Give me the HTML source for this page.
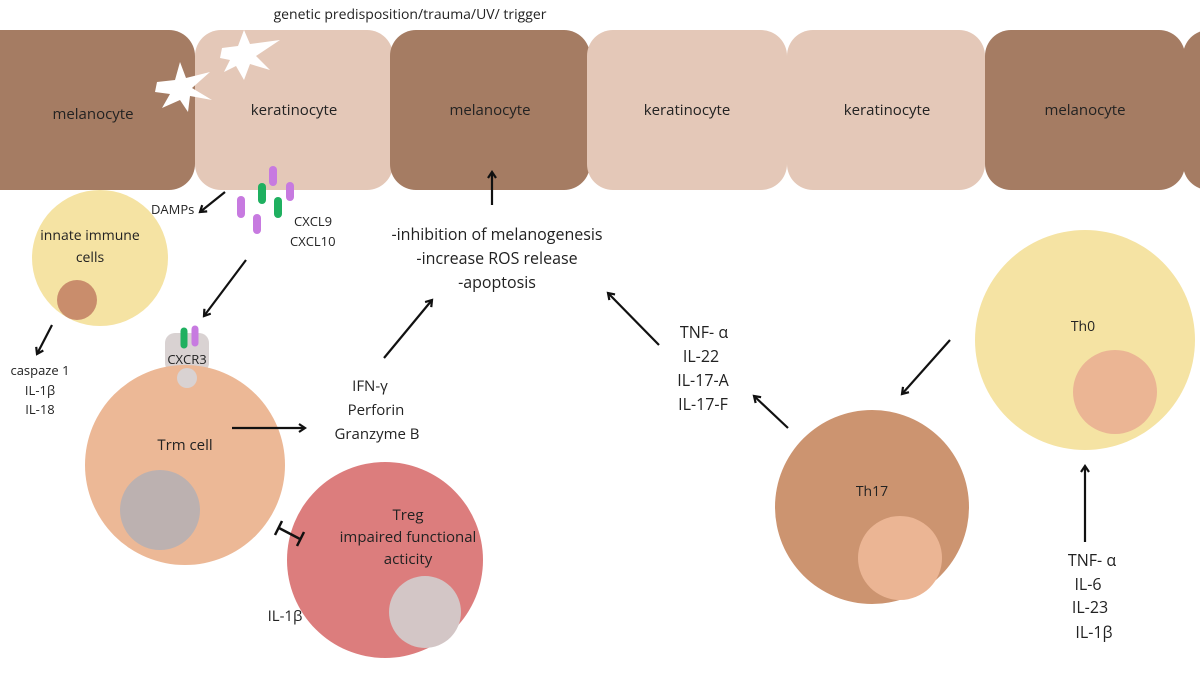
<!DOCTYPE html>
<html><head><meta charset="utf-8"><style>
html,body{margin:0;padding:0;background:#fff}
svg text{font-family:"Open Sans","Liberation Sans","DejaVu Sans",sans-serif;fill:#222}
</style></head><body>
<svg width="1200" height="675" viewBox="0 0 1200 675" xmlns="http://www.w3.org/2000/svg">
<defs><marker id="a" markerWidth="10" markerHeight="10" refX="7" refY="5" orient="auto" markerUnits="userSpaceOnUse"><path d="M1,1 L7,5 L1,9" fill="none" stroke="#111" stroke-width="2.2"/></marker></defs>
<text x="410" y="19" font-size="14" text-anchor="middle">genetic predisposition/trauma/UV/ trigger</text>
<!-- cells row -->
<rect x="-30" y="30" width="225" height="160" rx="26" fill="#a57c63"/>
<rect x="195" y="30" width="198" height="160" rx="26" fill="#e4c8b8"/>
<rect x="390" y="30" width="200" height="160" rx="26" fill="#a57c63"/>
<rect x="587" y="30" width="200" height="160" rx="26" fill="#e4c8b8"/>
<rect x="787" y="30" width="198" height="160" rx="26" fill="#e4c8b8"/>
<rect x="985" y="30" width="200" height="160" rx="26" fill="#a57c63"/>
<rect x="1183" y="30" width="60" height="160" rx="26" fill="#a57c63"/>
<g font-size="15" text-anchor="middle">
<text x="93" y="119">melanocyte</text><text x="294" y="115">keratinocyte</text><text x="490" y="115">melanocyte</text><text x="687" y="115">keratinocyte</text><text x="887" y="115">keratinocyte</text><text x="1085" y="115">melanocyte</text>
</g>
<!-- bursts -->
<polygon points="157,82 175,80 180,62 186,78 210,72 192,88 212,100 190,96 188,112 180,100 162,108 170,94 155,92" fill="#fff"/>
<polygon points="222,48 238,46 244,30 250,44 280,40 256,56 270,70 250,64 244,80 236,66 224,72 230,60 220,58" fill="#fff"/>
<!-- chemokines -->
<g stroke-linecap="round" stroke-width="8">
<line x1="273" y1="170" x2="273" y2="182" stroke="#c77ae0"/><line x1="290" y1="186" x2="290" y2="197" stroke="#c77ae0"/>
<line x1="241" y1="200" x2="241" y2="214" stroke="#c77ae0"/><line x1="257" y1="218" x2="257" y2="230" stroke="#c77ae0"/>
<line x1="262" y1="187" x2="262" y2="200" stroke="#1fb060"/><line x1="278" y1="201" x2="278" y2="214" stroke="#1fb060"/>
</g>
<text x="151" y="214" font-size="13">DAMPs</text>
<text x="294" y="226" font-size="13">CXCL9</text><text x="290" y="246" font-size="13">CXCL10</text>
<!-- innate -->
<circle cx="100" cy="258" r="68" fill="#f5e3a3"/><circle cx="77" cy="300" r="20" fill="#c98d6c"/>
<text x="90" y="240" font-size="14" text-anchor="middle">innate immune</text><text x="90" y="262" font-size="14" text-anchor="middle">cells</text>
<line x1="225" y1="192" x2="200" y2="212" stroke="#111" stroke-width="2.2" marker-end="url(#a)"/>
<line x1="246" y1="260" x2="204" y2="316" stroke="#111" stroke-width="2.2" marker-end="url(#a)"/>
<line x1="52" y1="325" x2="37" y2="354" stroke="#111" stroke-width="2.2" marker-end="url(#a)"/>
<g font-size="13" text-anchor="middle"><text x="40" y="375">caspaze 1</text><text x="40" y="395">IL-1β</text><text x="40" y="414">IL-18</text></g>
<!-- Trm -->
<rect x="165" y="333" width="44" height="40" rx="10" fill="#d9d2d2"/>
<rect x="177" y="360" width="20" height="28" rx="10" fill="#d9d2d2"/>
<circle cx="185" cy="465" r="100" fill="#ecb896"/>
<rect x="177" y="368" width="20" height="20" rx="10" fill="#d9d2d2"/>
<line x1="184" y1="331" x2="184" y2="345" stroke="#1fb060" stroke-width="7" stroke-linecap="round"/>
<line x1="195" y1="329" x2="195" y2="343" stroke="#c77ae0" stroke-width="7" stroke-linecap="round"/>
<text x="187" y="364" font-size="13" text-anchor="middle">CXCR3</text>
<circle cx="160" cy="510" r="40" fill="#bcb1b0"/>
<text x="185" y="450" font-size="15" text-anchor="middle">Trm cell</text>
<line x1="232" y1="428" x2="305" y2="428" stroke="#111" stroke-width="2.2" marker-end="url(#a)"/>
<g font-size="15" text-anchor="middle"><text x="370" y="391">IFN-γ</text><text x="376" y="415">Perforin</text><text x="377" y="439">Granzyme B</text></g>
<line x1="384" y1="358" x2="432" y2="300" stroke="#111" stroke-width="2.2" marker-end="url(#a)"/>
<!-- Treg -->
<circle cx="385" cy="560" r="98" fill="#dc7d7d"/><circle cx="425" cy="612" r="36" fill="#d3c6c6"/>
<g font-size="15" text-anchor="middle"><text x="408" y="520">Treg</text><text x="408" y="542">impaired functional</text><text x="408" y="564">acticity</text></g>
<line x1="279" y1="528" x2="300" y2="539" stroke="#111" stroke-width="2.5"/>
<line x1="275" y1="535" x2="282" y2="521" stroke="#111" stroke-width="2.5"/>
<line x1="297" y1="546" x2="304" y2="532" stroke="#111" stroke-width="2.5"/>
<text x="285" y="621" font-size="15" text-anchor="middle">IL-1β</text>
<!-- center text -->
<line x1="492" y1="205" x2="492" y2="172" stroke="#111" stroke-width="2.2" marker-end="url(#a)"/>
<g font-size="16" text-anchor="middle"><text x="497" y="240">-inhibition of melanogenesis</text><text x="497" y="264">-increase ROS release</text><text x="497" y="288">-apoptosis</text></g>
<!-- Th0 / Th17 -->
<circle cx="1085" cy="340" r="110" fill="#f5e3a3"/><circle cx="1115" cy="392" r="42" fill="#ebb594"/>
<text x="1083" y="331" font-size="14" text-anchor="middle">Th0</text>
<circle cx="872" cy="507" r="97" fill="#cc9470"/><circle cx="900" cy="558" r="42" fill="#ebb594"/>
<text x="872" y="496" font-size="14" text-anchor="middle">Th17</text>
<line x1="950" y1="340" x2="902" y2="394" stroke="#111" stroke-width="2.2" marker-end="url(#a)"/>
<line x1="788" y1="428" x2="754" y2="396" stroke="#111" stroke-width="2.2" marker-end="url(#a)"/>
<line x1="659" y1="345" x2="608" y2="293" stroke="#111" stroke-width="2.2" marker-end="url(#a)"/>
<g font-size="16" text-anchor="middle"><text x="704" y="338">TNF- α</text><text x="701" y="362">IL-22</text><text x="703" y="386">IL-17-A</text><text x="703" y="410">IL-17-F</text></g>
<line x1="1085" y1="542" x2="1085" y2="466" stroke="#111" stroke-width="2.2" marker-end="url(#a)"/>
<g font-size="16" text-anchor="middle"><text x="1092" y="566">TNF- α</text><text x="1088" y="590">IL-6</text><text x="1090" y="613">IL-23</text><text x="1094" y="638">IL-1β</text></g>
</svg>
</body></html>
